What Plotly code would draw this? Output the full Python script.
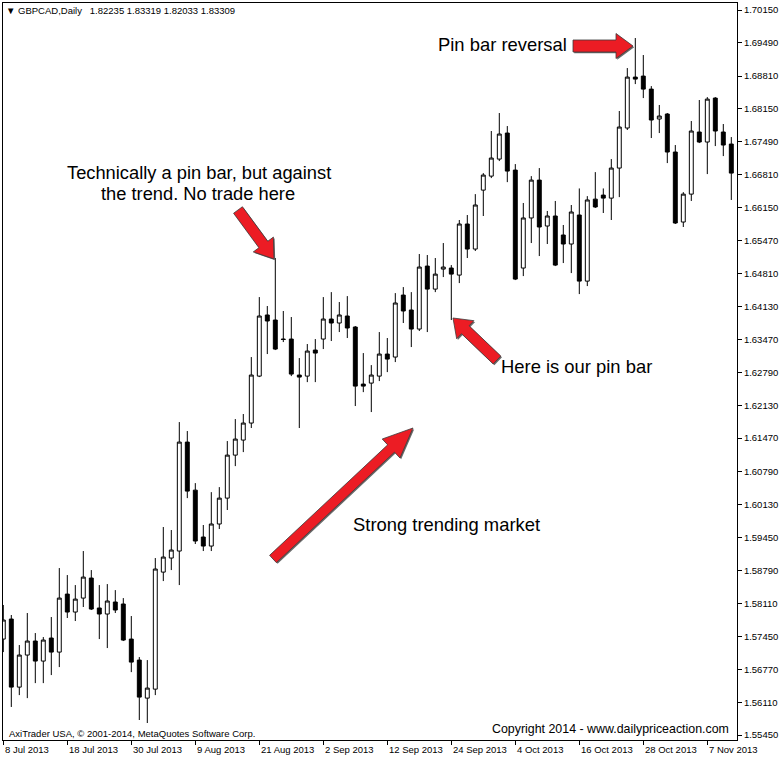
import math
import pandas as pd
import plotly.graph_objects as go

# ---------------- data ----------------
dates = list(pd.bdate_range("2013-07-08", periods=92))

open_ = [1.57395, 1.57801, 1.56421, 1.57071, 1.57355, 1.56949, 1.57416, 1.57131, 1.58307, 1.57943,
         1.58226, 1.58632, 1.58025, 1.57903, 1.58146, 1.58106, 1.57395, 1.56969, 1.56198, 1.56380,
         1.58753, 1.59038, 1.59180, 1.61389, 1.60415, 1.59464, 1.59281, 1.59728, 1.60253, 1.61125,
         1.61430, 1.61775, 1.62727, 1.63966, 1.63864, 1.63478, 1.63478, 1.62748, 1.62727, 1.63255,
         1.63478, 1.63884, 1.63803, 1.63945, 1.63722, 1.62565, 1.62585, 1.62727, 1.63174, 1.63113,
         1.64370, 1.64067, 1.63681, 1.64958, 1.64491, 1.64897, 1.64918, 1.64775, 1.65811, 1.65303,
         1.66498, 1.66782, 1.67127, 1.67655, 1.66904, 1.64918, 1.65933, 1.66701, 1.65770, 1.65973,
         1.65588, 1.65405, 1.65993, 1.64653, 1.66315, 1.66397, 1.66336, 1.66945, 1.67757, 1.68790,
         1.68810, 1.68546, 1.67940, 1.68041, 1.67270, 1.65851, 1.66417, 1.67676, 1.67473, 1.68364,
         1.67676, 1.67432]
high = [1.58086, 1.57883, 1.57274, 1.57923, 1.57517, 1.57436, 1.57842, 1.58835, 1.58693, 1.58490,
        1.59180, 1.58794, 1.58490, 1.58510, 1.58388, 1.58226, 1.57862, 1.57030, 1.56969, 1.59038,
        1.59667, 1.59606, 1.61795, 1.61613, 1.60557, 1.59708, 1.60374, 1.60476, 1.61410, 1.61856,
        1.61958, 1.63113, 1.64329, 1.64148, 1.65121, 1.64047, 1.63925, 1.63093, 1.63377, 1.63478,
        1.64329, 1.64430, 1.64229, 1.64349, 1.63742, 1.63194, 1.62950, 1.63620, 1.63499, 1.64410,
        1.64532, 1.64430, 1.65202, 1.65182, 1.65121, 1.65425, 1.64978, 1.65892, 1.65993, 1.66417,
        1.66843, 1.67696, 1.68061, 1.67797, 1.67026, 1.66237, 1.66782, 1.66945, 1.66075, 1.66278,
        1.65791, 1.66196, 1.66532, 1.66376, 1.66863, 1.66532, 1.67127, 1.68102, 1.68973, 1.69582,
        1.69237, 1.68607, 1.68224, 1.68061, 1.67412, 1.66457, 1.67899, 1.68325, 1.68384, 1.68384,
        1.67838, 1.67574]
low = [1.57131, 1.56018, 1.56259, 1.56198, 1.56502, 1.56502, 1.56665, 1.56827, 1.57822, 1.57761,
       1.58045, 1.57984, 1.57395, 1.57213, 1.57923, 1.57355, 1.56725, 1.55754, 1.55693, 1.56259,
       1.58571, 1.58794, 1.58490, 1.60253, 1.59322, 1.59180, 1.59180, 1.59626, 1.60012, 1.60902,
       1.61186, 1.61674, 1.62707, 1.63174, 1.63255, 1.63417, 1.62727, 1.61674, 1.62605, 1.62605,
       1.63275, 1.63438, 1.63620, 1.63499, 1.62120, 1.62402, 1.61998, 1.62626, 1.62808, 1.63011,
       1.63803, 1.63316, 1.63641, 1.63620, 1.64430, 1.64735, 1.63864, 1.64613, 1.65121, 1.65263,
       1.65973, 1.66742, 1.67087, 1.66660, 1.64674, 1.64755, 1.65425, 1.65161, 1.65405, 1.64958,
       1.65019, 1.64816, 1.64390, 1.64552, 1.66136, 1.66034, 1.65892, 1.66356, 1.67717, 1.68648,
       1.68364, 1.67554, 1.67655, 1.67046, 1.65811, 1.65750, 1.66278, 1.67452, 1.66823, 1.67391,
       1.67188, 1.66298]
close = [1.57781, 1.56421, 1.57071, 1.57355, 1.56949, 1.57375, 1.57131, 1.58226, 1.57943, 1.58205,
         1.58652, 1.58004, 1.57903, 1.58167, 1.57984, 1.57375, 1.56928, 1.56218, 1.56401, 1.58815,
         1.59058, 1.59200, 1.61389, 1.60395, 1.59383, 1.59281, 1.59728, 1.60253, 1.61125, 1.61450,
         1.61775, 1.62748, 1.63945, 1.63844, 1.63275, 1.63470, 1.62768, 1.62707, 1.63235, 1.63194,
         1.63884, 1.63803, 1.63966, 1.63702, 1.62524, 1.62524, 1.62748, 1.63174, 1.63072, 1.64209,
         1.64047, 1.63681, 1.64938, 1.64491, 1.64795, 1.64938, 1.64795, 1.65811, 1.65303, 1.66196,
         1.66803, 1.67148, 1.67635, 1.66884, 1.64694, 1.65933, 1.66701, 1.65750, 1.65973, 1.64978,
         1.65405, 1.66054, 1.64653, 1.66298, 1.66156, 1.66336, 1.66945, 1.67777, 1.68790, 1.68749,
         1.68546, 1.67919, 1.68000, 1.67270, 1.65831, 1.66417, 1.67696, 1.67473, 1.68343, 1.67696,
         1.67412, 1.66843]

price_ticks = [1.70150, 1.69490, 1.68810, 1.68150, 1.67490, 1.66810, 1.66150, 1.65470, 1.64810,
               1.64130, 1.63470, 1.62790, 1.62130, 1.61470, 1.60790, 1.60130, 1.59450, 1.58790,
               1.58110, 1.57450, 1.56770, 1.56110, 1.55450]
date_tick_labels = ["8 Jul 2013", "18 Jul 2013", "30 Jul 2013", "9 Aug 2013", "21 Aug 2013",
                    "2 Sep 2013", "12 Sep 2013", "24 Sep 2013", "4 Oct 2013", "16 Oct 2013",
                    "28 Oct 2013", "7 Nov 2013"]

# ---------------- layout geometry ----------------
W, H = 780, 758
PL, PR, PT, PB = 3, 737, 3, 740          # plot area in pixels
FONT = "Liberation Sans, Arial, sans-serif"
RED = "#ec1c24"

def px2paper(x, y):
    return (x - PL) / (PR - PL), (PB - y) / (PB - PT)

x_idx = list(range(len(dates)))
tick_idx = [dates.index(pd.Timestamp(lbl)) for lbl in date_tick_labels]

fig = go.Figure()
fig.add_trace(go.Candlestick(
    x=x_idx, open=open_, high=high, low=low, close=close,
    increasing=dict(fillcolor="white", line=dict(color="black", width=1)),
    decreasing=dict(fillcolor="black", line=dict(color="black", width=1)),
    whiskerwidth=0,
    hovertext=[d.strftime("%d %b %Y") for d in dates],
    showlegend=False,
))

# ---------------- arrows ----------------
def arrow_path(tail, tip, shaft_hw, head_hw, head_len, off=(0, 0)):
    tx, ty = tail[0] + off[0], tail[1] + off[1]
    px, py = tip[0] + off[0], tip[1] + off[1]
    dx, dy = px - tx, py - ty
    L = math.hypot(dx, dy)
    ux, uy = dx / L, dy / L
    nx, ny = -uy, ux
    bx, by = px - ux * head_len, py - uy * head_len
    pts = [
        (tx + nx * shaft_hw, ty + ny * shaft_hw),
        (bx + nx * shaft_hw, by + ny * shaft_hw),
        (bx + nx * head_hw, by + ny * head_hw),
        (px, py),
        (bx - nx * head_hw, by - ny * head_hw),
        (bx - nx * shaft_hw, by - ny * shaft_hw),
        (tx - nx * shaft_hw, ty - ny * shaft_hw),
    ]
    ppts = [px2paper(a, b) for a, b in pts]
    return "M " + " L ".join(f"{a:.5f},{b:.5f}" for a, b in ppts) + " Z"

arrows = [
    ((573, 46), (633, 46), 6, 12.5, 17),      # Pin bar reversal
    ((238, 210), (274, 259), 5.5, 12.5, 18),  # technically a pin bar
    ((497, 360), (453, 318), 5.5, 12.5, 17),  # here is our pin bar
    ((273, 559), (413, 428), 5, 13, 30),      # strong trending market
]
shapes = []
for tail, tip, shw, hhw, hl in arrows:
    shapes.append(dict(type="path", xref="paper", yref="paper",
                       path=arrow_path(tail, tip, shw, hhw, hl, off=(1.2, 1.2)),
                       fillcolor="#6a6a6a", line=dict(width=0), layer="above"))
    shapes.append(dict(type="path", xref="paper", yref="paper",
                       path=arrow_path(tail, tip, shw, hhw, hl),
                       fillcolor=RED, line=dict(color="#3c3c3c", width=0.8), layer="above"))

# ---------------- annotations ----------------
annotations = []

def text_ann(txt, x, y, size, xanchor="center", bg=None, color="black"):
    ax, ay = px2paper(x, y)
    d = dict(text=txt, x=ax, y=ay, xref="paper", yref="paper", xanchor=xanchor,
             yanchor="middle", showarrow=False, font=dict(family=FONT, size=size, color=color))
    if bg:
        d["bgcolor"] = bg
        d["borderpad"] = 1
    annotations.append(d)

text_ann("Pin bar reversal", 502, 45, 18.4)
text_ann("Technically a pin bar, but against", 199, 173, 18.3)
text_ann("the trend. No trade here", 198, 193, 18.3)
text_ann("Here is our pin bar", 576, 366, 18.4)
text_ann("Strong trending market", 446, 524, 18.4)
text_ann("Copyright 2014 - www.dailypriceaction.com", 610, 729, 12.4, bg="white")
text_ann("AxiTrader USA, \u00a9 2001-2014, MetaQuotes Software Corp.", 7, 733, 9.5, xanchor="left")
text_ann("\u25bc GBPCAD,Daily\u00a0\u00a0 1.82235 1.83319 1.82033 1.83309", 4, 11, 9.5, xanchor="left")

# date labels start at their tick (MetaTrader style)
_, date_y = px2paper(0, 749)
for i, lbl in zip(tick_idx, date_tick_labels):
    annotations.append(dict(text=lbl, x=i, y=date_y, xref="x", yref="paper", xanchor="left",
                            yanchor="middle", showarrow=False,
                            font=dict(family=FONT, size=9.5, color="black")))

# ---------------- axes ----------------
bar_px = 8.0
x0 = (PL - 3.3) / bar_px
x1 = (PR - 3.3) / bar_px
ppx = 0.00020276
y_top = 1.703528 - ppx * PT
y_bot = 1.703528 - ppx * PB

fig.update_layout(
    width=W, height=H,
    margin=dict(l=PL, r=W - PR, t=PT, b=H - PB, autoexpand=False),
    paper_bgcolor="white", plot_bgcolor="white",
    showlegend=False, hovermode=False,
    boxgap=0.3,
    shapes=shapes, annotations=annotations,
    xaxis=dict(range=[x0, x1], rangeslider=dict(visible=False), showgrid=False, zeroline=False,
               tickvals=tick_idx, ticks="outside", ticklen=4, tickcolor="black",
               showticklabels=False, showline=True, linecolor="black", linewidth=1, mirror=True,
               fixedrange=True),
    yaxis=dict(range=[y_bot, y_top], side="right", showgrid=False, zeroline=False,
               tickvals=price_ticks, ticktext=[f"{v:.5f}" for v in price_ticks],
               ticks="outside", ticklen=4, tickcolor="black",
               tickfont=dict(family=FONT, size=9.5, color="black"),
               showline=True, linecolor="black", linewidth=1, mirror=True,
               automargin=False, fixedrange=True),
)

fig.write_html("out.html", config={"displayModeBar": False, "staticPlot": True},
               post_script="document.body.style.margin='0';document.body.style.overflow='hidden';")
